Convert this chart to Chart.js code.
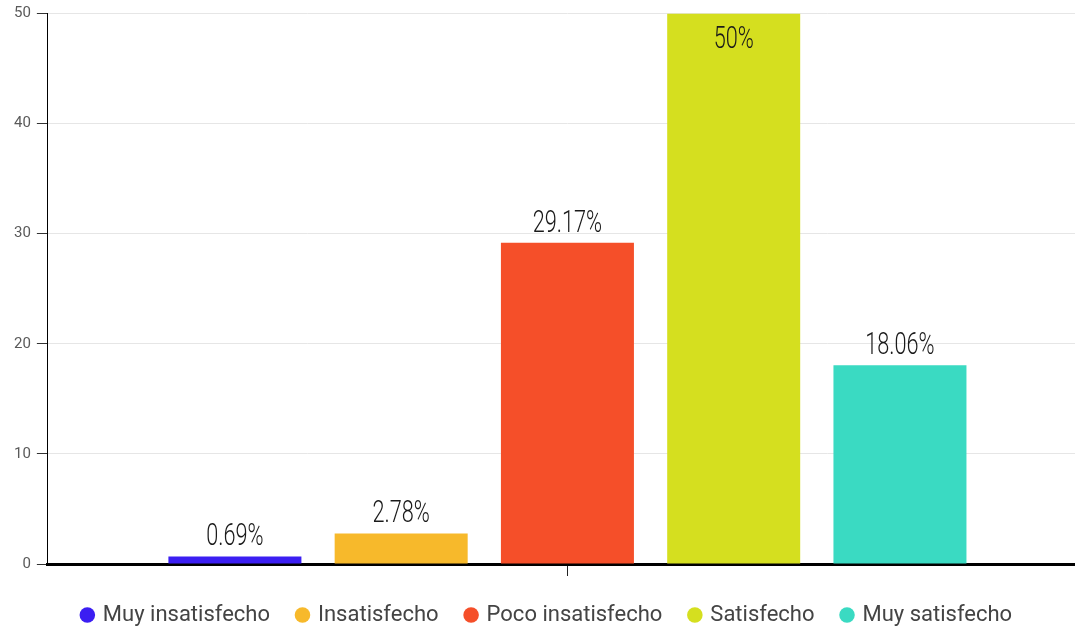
<!DOCTYPE html>
<html>
<head>
<meta charset="utf-8">
<script src="https://cdn.jsdelivr.net/npm/chart.js@4"></script>
<style>
    html, body { margin: 0; padding: 0; background: #fff; overflow: hidden; }
    #wrap { width: 1100px; height: 627px; overflow: hidden; }
    #inner { width: 1100px; height: 636px; }
</style>
</head>
<body>
<div id="wrap"><div id="inner"><canvas id="satisfaccionChart"></canvas></div></div>
<script>
// categorías de la encuesta y porcentajes
const niveles = ["Muy insatisfecho", "Insatisfecho", "Poco insatisfecho", "Satisfecho", "Muy satisfecho"];
const porcentajes = [0.69, 2.78, 29.17, 50, 18.06];
const colores = ["#3b1ef2", "#f7b92b", "#f54f29", "#d5df1f", "#3adac2"];
const ticksY = [0, 10, 20, 30, 40, 50];

// etiquetas de valor sobre cada barra
const etiquetasValor = {
    id: "etiquetasValor",
    afterDatasetsDraw(chart) {
        const ctx = chart.ctx;
        const area = chart.chartArea;
        ctx.save();
        ctx.font = "300 31px Roboto";
        ctx.fillStyle = "#1a1a1a";
        ctx.textAlign = "center";
        ctx.textBaseline = "alphabetic";
        chart.data.datasets.forEach((ds, i) => {
            const bar = chart.getDatasetMeta(i).data[0];
            const texto = ds.data[0] + "%";
            let y = bar.y - 11;
            if (y - 23 < area.top) y = bar.y + 11 + 23;
            ctx.save();
            ctx.translate(bar.x, y);
            ctx.scale(0.7, 1);
            ctx.fillText(texto, 0, 0);
            ctx.restore();
        });
        ctx.restore();
    }
};

const ctx = document.getElementById("satisfaccionChart").getContext("2d");

new Chart(ctx, {
    type: "bar",
    data: {
        labels: [""],
        datasets: niveles.map((nivel, i) => ({
            label: nivel,
            data: [porcentajes[i]],
            backgroundColor: colores[i],
            barPercentage: 0.8,
            categoryPercentage: 0.8
        }))
    },
    options: {
        responsive: true,
        maintainAspectRatio: false,
        animation: false,
        layout: { padding: { left: 8, right: 13, top: 0, bottom: 0 } },
        scales: {
            x: {
                grid: { offset: false, drawOnChartArea: false, tickLength: 12, tickColor: "#222", tickWidth: 1 },
                border: { color: "#000", width: 3 },
                ticks: { display: false }
            },
            y: {
                min: 0,
                max: 50,
                afterBuildTicks: axis => { axis.ticks = ticksY.map(v => ({ value: v })); },
                grid: { color: "#e6e6e6", tickLength: 11, tickColor: "#333" },
                border: { color: "#000", width: 1 },
                ticks: { color: "#5a5a5a", padding: 6, font: { family: "Roboto", size: 15, lineHeight: 1 } }
            }
        },
        plugins: {
            legend: {
                position: "bottom",
                labels: {
                    usePointStyle: true,
                    pointStyle: "circle",
                    boxWidth: 9,
                    boxHeight: 11,
                    padding: 28,
                    color: "#444",
                    font: { family: "Roboto", size: 22 }
                }
            },
            tooltip: { enabled: false }
        }
    },
    plugins: [etiquetasValor]
});
</script>
</body>
</html>
